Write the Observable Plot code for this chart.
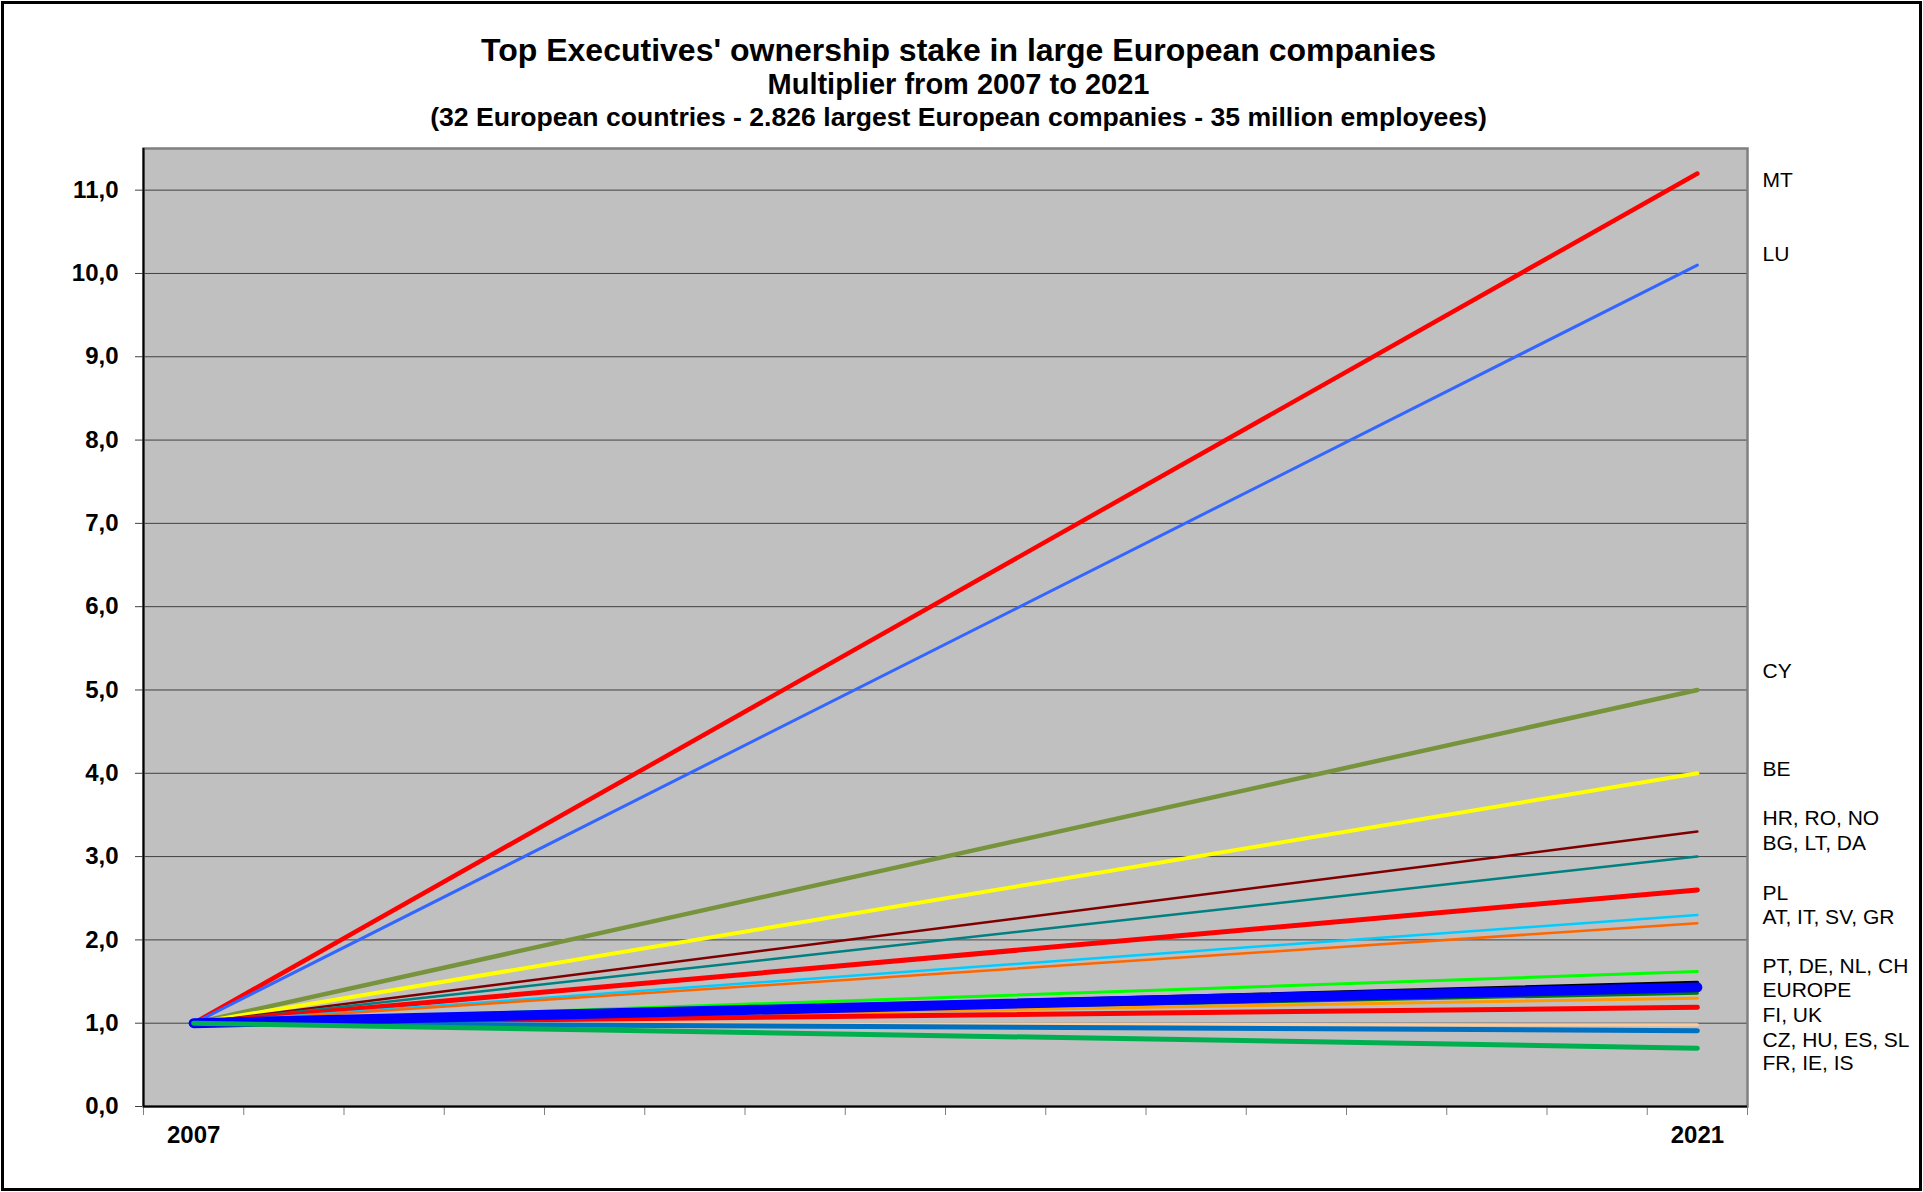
<!DOCTYPE html>
<html>
<head>
<meta charset="utf-8">
<script src="https://cdn.jsdelivr.net/npm/d3@7"></script>
<script src="https://cdn.jsdelivr.net/npm/@observablehq/plot@0.6"></script>
<style>
  html, body { margin: 0; padding: 0; background: #fff; }
  #wrap { position: relative; width: 1923px; height: 1192px; overflow: hidden; font-family: "Liberation Sans", Arial, sans-serif; }
  #border { position: absolute; left: 1px; top: 1px; width: 1921px; height: 1190px; box-sizing: border-box; border: 3px solid #000; pointer-events: none; }
  .t { position: absolute; left: 0; width: 1917px; text-align: center; font-weight: bold; color: #000; white-space: nowrap; line-height: 1; }
  #chart { position: absolute; left: 0; top: 140px; }
</style>
</head>
<body>
<div id="wrap">
  <div class="t" id="t1" style="top:34px;font-size:32px;">Top Executives' ownership stake in large European companies</div>
  <div class="t" id="t2" style="top:70px;font-size:29px;">Multiplier from 2007 to 2021</div>
  <div class="t" id="t3" style="top:104px;font-size:26.6px;">(32 European countries - 2.826 largest European companies - 35 million employees)</div>
  <div id="chart"></div>
  <div id="border"></div>
</div>
<script>
// ---- data ----
const years = [2007, 2021];
const seriesNames = ["MT", "LU", "CY", "BE", "HR_RO_NO", "BG_LT_DA", "PL", "AT_IT", "SV_GR", "PT_DE", "NL_CH", "DK_GREEN", "FI_ORANGE", "UK", "CZ_HU", "ES_SL", "EUROPE", "FR_IE_IS"];
const startValues = [1, 1, 1, 1, 1, 1, 1, 1, 1, 1, 1, 1, 1, 1, 1, 1, 1, 1];
const endValues   = [11.2, 10.1, 5.0, 4.0, 3.3, 3.0, 2.6, 2.3, 2.2, 1.62, 1.49, 1.36, 1.30, 1.19, 0.98, 0.91, 1.43, 0.70];
const seriesColors = ["#ff0000", "#3366ff", "#77933c", "#ffff00", "#800000", "#008080", "#ff0000", "#00ccff", "#ff6600", "#00ff00", "#000000", "#007a00", "#ff9900", "#ff0000", "#ffcc99", "#0070c0", "#0000ff", "#00b050"];
const seriesWidths = [4.5, 3, 4.5, 4, 2.5, 2.5, 5, 2.5, 2.5, 3, 3.5, 3, 3, 5, 3, 5, 10, 5];

const labelTexts = ["MT", "LU", "CY", "BE", "HR, RO, NO", "BG, LT, DA", "PL", "AT, IT, SV, GR", "PT, DE, NL, CH", "EUROPE", "FI, UK", "CZ, HU, ES, SL", "FR, IE, IS"];
const labelValues = [11.12, 10.23, 5.22, 4.05, 3.46, 3.16, 2.56, 2.27, 1.68, 1.39, 1.10, 0.80, 0.52];

const yTicks = [0, 1, 2, 3, 4, 5, 6, 7, 8, 9, 10, 11];
const yMax = 11.5;
const nCategories = 16;

// ---- derived ----
const step = (years[1] - years[0]) / (nCategories - 1);
const xMin = years[0] - step / 2, xMax = years[1] + step / 2;
const xBoundaries = d3.range(nCategories + 1).map(i => xMin + i * step);

const rows = seriesNames.map((name, i) => [
  {series: name, year: years[0], value: startValues[i]},
  {series: name, year: years[1], value: endValues[i]}
]);
const labels = labelTexts.map((t, i) => ({text: t, value: labelValues[i]}));

const lineMarks = rows.map((r, i) => Plot.line(r, {
  x: "year", y: "value", stroke: seriesColors[i], strokeWidth: seriesWidths[i],
  strokeLinecap: "round", strokeLinejoin: "round"
}));

const chart = Plot.plot({
  width: 1923,
  height: 1052,
  marginTop: 8,
  marginBottom: 86,
  marginLeft: 143,
  marginRight: 176,
  style: {fontFamily: "'Liberation Sans', Arial, sans-serif", background: "transparent", color: "#000"},
  x: {domain: [xMin, xMax]},
  y: {domain: [0, yMax]},
  marks: [
    Plot.frame({fill: "#c0c0c0"}),
    Plot.gridY({ticks: yTicks.filter(d => d > 0), stroke: "#404040", strokeOpacity: 1, strokeWidth: 1}),
    Plot.axisY({ticks: yTicks, tickFormat: d => d.toFixed(1).replace(".", ","), tickSize: 8, tickPadding: 17,
      fontSize: 24, fontWeight: "bold", stroke: "#404040", label: null}),
    Plot.axisX({ticks: xBoundaries, tickFormat: () => "", tickSize: 9, stroke: "#808080", label: null}),
    Plot.axisX({ticks: years, tickFormat: d => String(d), tickSize: 0, tickPadding: 19,
      fontSize: 24, fontWeight: "bold", label: null}),
    ...lineMarks,
    Plot.frame({stroke: "#808080", strokeWidth: 2.5}),
    Plot.ruleX([xMin], {stroke: "#000", strokeWidth: 2}),
    Plot.ruleY([0], {stroke: "#000", strokeWidth: 2}),
    Plot.text(labels, {x: () => xMax, y: "value", text: "text", dx: 15, textAnchor: "start", fontSize: 21, fill: "#000"})
  ]
});
document.getElementById("chart").appendChild(chart);
</script>
</body>
</html>
